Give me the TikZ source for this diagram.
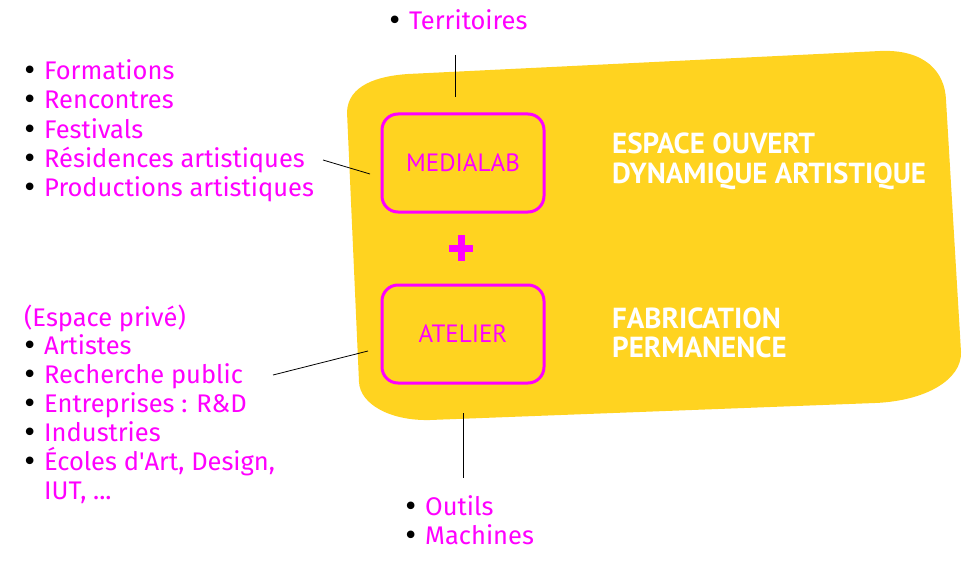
\documentclass[tikz,border=0pt]{standalone}
\usepackage{fontspec}
\setmainfont{Fira Sans}
\newfontfamily\hdfont{PT Sans}
\newfontfamily\dvfont{DejaVu Sans}
\usetikzlibrary{calc}
\definecolor{mag}{HTML}{FF00FF}
\definecolor{yel}{HTML}{FFD320}
\newcommand{\itm}[1]{\makebox[22pt][l]{\color{black}\dvfont\fontsize{26}{26}\selectfont •}\textcolor{mag}{#1}}
\begin{document}
\begin{tikzpicture}[x=1pt,y=-1pt,
  lst/.style={anchor=base west,inner sep=0pt,font=\fontsize{25.5}{29}\selectfont},
  hd/.style={anchor=base west,inner sep=0pt,text=white,font=\hdfont\bfseries\fontsize{29}{32}\selectfont},
  boxn/.style={draw=mag,line width=3pt,rounded corners=16pt,minimum width=162pt,minimum height=98pt,text=mag,font=\hdfont\fontsize{25}{28}\selectfont},
  con/.style={draw=black,line width=0.8pt}]
\useasboundingbox (0,0) rectangle (976,567);
% yellow background shape
\fill[yel] (347,112) .. controls (348,85) and (378,76) .. (408,74)
  -- (880,51) .. controls (925,49) and (945,72) .. (946,100)
  -- (961,352) .. controls (962,380) and (925,401) .. (875,403)
  -- (430,420) .. controls (390,421) and (360,404) .. (359,382) -- cycle;
% boxes
\node[boxn] (media) at (463,163) {MEDIALAB};
\node[boxn] (atel) at (463,334) {ATELIER};
\node[inner sep=0pt,minimum size=26pt] (plus) at (461,248) {};
\fill[mag] ($(plus)+(-12,-3.5)$) rectangle ($(plus)+(12,3.5)$);
\fill[mag] ($(plus)+(-3.5,-13)$) rectangle ($(plus)+(3.5,13)$);
% headers
\node[hd] (h1) at (612,153) {ESPACE OUVERT};
\node[hd] (h2) at (612,183) {DYNAMIQUE ARTISTIQUE};
\node[hd] (h3) at (612,328) {FABRICATION};
\node[hd] (h4) at (612,357) {PERMANENCE};
% top list
\node[lst] (terr) at (387,30) {\itm{Territoires}};
% left list 1
\node[lst] (l1) at (22,80) {\itm{Formations}};
\node[lst] (l2) at (22,109) {\itm{Rencontres}};
\node[lst] (l3) at (22,138) {\itm{Festivals}};
\node[lst] (l4) at (22,167) {\itm{Résidences artistiques}};
\node[lst] (l5) at (22,196) {\itm{Productions artistiques}};
% left list 2
\node[lst,text=mag] (p0) at (24,326) {(Espace privé)};
\node[lst] (p1) at (22,354) {\itm{Artistes}};
\node[lst] (p2) at (22,383) {\itm{Recherche public}};
\node[lst] (p3) at (22,412) {\itm{Entreprises : R\&D}};
\node[lst] (p4) at (22,441) {\itm{Industries}};
\node[lst] (p5) at (22,470) {\itm{Écoles d\textquotesingle Art, Design,}};
\node[lst,text=mag] (p6) at (44,499) {IUT, ...};
% bottom list
\node[lst] (b1) at (403,515) {\itm{Outils}};
\node[lst] (b2) at (403,544) {\itm{Machines}};
% connectors
\coordinate (t1) at (455,55);
\coordinate (t2) at (455,97);
\coordinate (m1) at (323,160);
\coordinate (m2) at (370,174);
\coordinate (a1) at (273,375);
\coordinate (a2) at (368,351);
\coordinate (o1) at (463,413);
\coordinate (o2) at (463,478);
\draw[con] (t1) -- (t2);
\draw[con] (m1) -- (m2);
\draw[con] (a1) -- (a2);
\draw[con] (o1) -- (o2);
\end{tikzpicture}
\end{document}
